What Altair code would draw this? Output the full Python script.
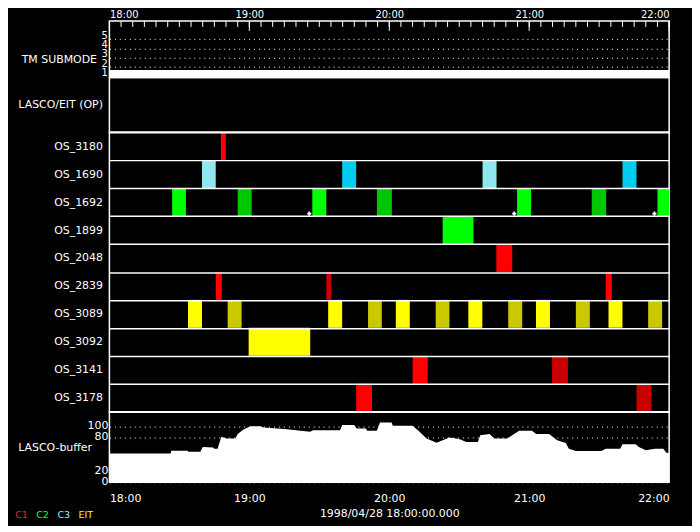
import altair as alt
import pandas as pd

FONT = "DejaVu Sans"

# ---------------- data ----------------
hour_values = [0, 60, 120, 180, 240]          # minutes after 18:00
hour_labels = ["18:00", "19:00", "20:00", "21:00", "22:00"]
date_label = "1998/04/28 18:00:00.000"

row_names = ["OS_3180", "OS_1690", "OS_1692", "OS_1899", "OS_2048",
             "OS_2839", "OS_3089", "OS_3092", "OS_3141", "OS_3178"]

RED, DKRED = "#ff0000", "#c80000"
GRN, DKGRN = "#00ff00", "#00c800"
LCYAN, CYAN = "#90e6ee", "#00ccee"
YEL, OLIVE = "#ffff00", "#ccc800"

os3180_start = [47.8]
os3180_end = [49.9]
os3180_col = [RED]

os1690_start = [39.7, 99.8, 160.0, 220.0]
os1690_end = [45.6, 105.8, 166.0, 226.0]
os1690_col = [LCYAN, CYAN, LCYAN, CYAN]

os1692_start = [26.9, 55.0, 87.0, 114.7, 174.8, 206.8, 235.0]
os1692_end = [32.8, 61.0, 93.0, 121.1, 180.8, 213.0, 240.0]
os1692_col = [GRN, DKGRN, GRN, DKGRN, GRN, DKGRN, GRN]

os1899_start = [142.9]
os1899_end = [156.1]
os1899_col = [GRN]

os2048_start = [165.9]
os2048_end = [172.7]
os2048_col = [RED]

os2839_start = [45.6, 93.0, 212.8]
os2839_end = [48.2, 95.1, 215.4]
os2839_col = [RED, DKRED, RED]

os3089_start = [33.7, 50.7, 93.8, 110.9, 122.8, 139.9, 153.9, 171.0, 182.9, 200.0, 214.0, 231.0]
os3089_end = [39.7, 56.7, 99.8, 116.8, 128.8, 145.8, 159.9, 177.0, 188.9, 206.0, 220.0, 237.0]
os3089_col = [YEL, OLIVE, YEL, OLIVE, YEL, OLIVE, YEL, OLIVE, YEL, OLIVE, YEL, OLIVE]

os3092_start = [59.7]
os3092_end = [86.1]
os3092_col = [YEL]

os3141_start = [130.0, 189.8]
os3141_end = [136.5, 196.6]
os3141_col = [RED, DKRED]

os3178_start = [105.8, 226.0]
os3178_end = [112.6, 232.4]
os3178_col = [RED, DKRED]

flag_time = [85.7, 173.6, 233.7]
flag_row = ["OS_1692", "OS_1692", "OS_1692"]

sub_start = [0]
sub_end = [240]
sub_value = [1]

buf_time = [0, 26.2, 26.6, 33.5, 33.8, 39, 40, 44.5, 45, 46.4, 48, 50, 54, 55, 57.5,
            60.5, 64.8, 66, 75, 86, 87.4, 98.9, 99.8, 105, 106, 110, 110.5, 114.7, 116,
            121, 121.5, 130, 133, 136, 140.3, 145.8, 150, 153, 158, 159, 163, 165, 170.6,
            175.7, 181.2, 183, 188.5, 192, 195.7, 197, 200, 211, 212.8, 219, 220, 225.6,
            227, 230, 234, 237.5, 238.8, 240]
buf_value = [51.5, 51.5, 56, 56, 54.5, 54.5, 63, 62, 60, 60, 81, 78, 78, 86, 94,
             100, 100, 97.7, 95, 90, 93, 93, 102, 102, 96, 96, 92, 92, 106.6,
             106.6, 100.7, 100.7, 90, 78, 70.5, 80, 77, 72, 72, 84, 86, 78, 78,
             92, 92, 86, 86, 75, 70, 60, 55.6, 55.6, 60, 60, 68, 68,
             63, 57, 60, 60, 52.7, 52]

legend_text = ["C1", "C2", "C3", "EIT"]
legend_color = ["#ff2020", "#20ff20", "#a0e8f0", "#ffff00"]
legend_x = [-94.7, -73.7, -52.3, -31.0]

# ---------------- tables ----------------
rows_data = [
    ("OS_3180", os3180_start, os3180_end, os3180_col),
    ("OS_1690", os1690_start, os1690_end, os1690_col),
    ("OS_1692", os1692_start, os1692_end, os1692_col),
    ("OS_1899", os1899_start, os1899_end, os1899_col),
    ("OS_2048", os2048_start, os2048_end, os2048_col),
    ("OS_2839", os2839_start, os2839_end, os2839_col),
    ("OS_3089", os3089_start, os3089_end, os3089_col),
    ("OS_3092", os3092_start, os3092_end, os3092_col),
    ("OS_3141", os3141_start, os3141_end, os3141_col),
    ("OS_3178", os3178_start, os3178_end, os3178_col),
]
recs = []
for name, s, e, c in rows_data:
    for a, b, col in zip(s, e, c):
        recs.append({"row": name, "t": a, "t2": b, "color": col})
bars_df = pd.DataFrame(recs)
flag_df = pd.DataFrame({"row": flag_row, "t": flag_time})
sub_df = pd.DataFrame({"t": sub_start, "t2": sub_end, "v": sub_value})
buf_df = pd.DataFrame({"t": buf_time, "v": buf_value})
minor_df = pd.DataFrame({"t": list(range(0, 241, 5))})
major_df = pd.DataFrame({"t": hour_values})
one_df = pd.DataFrame({"t": [0], "v": [0]})

W = 563
label_expr = "[" + ",".join("'%s'" % s for s in hour_labels) + "][round(datum.value/60)]"
xscale = alt.Scale(domain=[0, 240], nice=False, zero=False)


def xenc(field="t", axis=None):
    return alt.X(f"{field}:Q", scale=xscale, axis=axis, title=None)


top_axis = alt.Axis(orient="top", values=hour_values, labelExpr=label_expr, ticks=False,
                    domain=False, grid=False, labelColor="white", labelFontSize=10,
                    labelPadding=1.5, labelAngle=0, title=None)

# ---------- panel A: TM SUBMODE ----------
axisA = alt.Axis(values=[1, 2, 3, 4, 5], grid=True, gridDash=[1, 4], gridColor="white",
                 gridWidth=1, ticks=False, domain=False, labelColor="white",
                 labelFontSize=10, labelPadding=2, labelOffset=-4, labelOverlap=False,
                 title="TM SUBMODE", titleAngle=0, titleAlign="right", titleBaseline="middle",
                 titleX=-13, titleY=39, titleFontWeight="normal", titleFontSize=11,
                 titleColor="white")
band = alt.Chart(sub_df).mark_rule(color="white", strokeWidth=7.5, yOffset=-2.7).encode(
    x=xenc("t", top_axis), x2="t2:Q",
    y=alt.Y("v:Q", scale=alt.Scale(domain=[0.886, 6.93], nice=False, zero=False), axis=axisA))
tminor = alt.Chart(minor_df).mark_rule(color="white", strokeWidth=1).encode(
    x=xenc("t", top_axis), y=alt.value(0), y2=alt.value(6))
tmajor = alt.Chart(major_df).mark_rule(color="white", strokeWidth=1).encode(
    x=xenc("t", top_axis), y=alt.value(0), y2=alt.value(10))
panelA = alt.layer(band, tminor, tmajor).properties(width=W, height=57)

# ---------- panel B: LASCO/EIT (OP) ----------
panelB = alt.Chart(one_df).mark_point(opacity=0).encode(
    x=xenc("t"),
    y=alt.Y("v:Q", axis=alt.Axis(title="LASCO/EIT (OP)", labels=False, ticks=False, domain=False,
                                 grid=False, titleAngle=0, titleAlign="right",
                                 titleBaseline="middle", titleX=-7, titleY=27.5,
                                 titleFontWeight="normal", titleFontSize=11, titleColor="white"))
).properties(width=W, height=55)

# ---------- panel C: OS rows ----------
rowscale = alt.Scale(domain=row_names, paddingInner=0, paddingOuter=0)
rowaxis = alt.Axis(title=None, tickBand="extent", grid=True, gridColor="white", gridWidth=1.5,
                   ticks=False, domain=False, labelColor="white", labelFontSize=11,
                   labelPadding=7)
bars = alt.Chart(bars_df).mark_rect().encode(
    x=xenc("t"), x2="t2:Q",
    y=alt.Y("row:N", sort=row_names, scale=rowscale, axis=rowaxis),
    color=alt.Color("color:N", scale=None))
flags = alt.Chart(flag_df).mark_point(shape="cross", filled=True, size=18, color="white",
                                      opacity=1, yOffset=11.5).encode(
    x=xenc("t"), y=alt.Y("row:N", sort=row_names, scale=rowscale, axis=rowaxis))
panelC = alt.layer(bars, flags).properties(width=W, height=281)

# ---------- panel D: LASCO-buffer ----------
bottom_axis = alt.Axis(orient="bottom", values=hour_values, labelExpr=label_expr, ticks=False,
                       domain=False, grid=False, labelColor="white", labelFontSize=11,
                       labelPadding=10, labelAngle=0, title=date_label, titleColor="white",
                       titleFontWeight="normal", titleFontSize=11, titlePadding=4)
axisD = alt.Axis(values=[0, 20, 80, 100], grid=True, gridDash=[1, 4], gridColor="white",
                 gridWidth=1, ticks=False, domain=False, labelColor="white", labelFontSize=11,
                 labelPadding=1.5, labelOffset=-1, labelOverlap=False,
                 title="LASCO-buffer", titleAngle=0, titleAlign="right", titleBaseline="middle",
                 titleX=-18, titleY=36, titleFontWeight="normal", titleFontSize=11,
                 titleColor="white")
area = alt.Chart(buf_df).mark_area(color="white", interpolate="linear", opacity=1).encode(
    x=alt.X("t:Q", scale=xscale, axis=bottom_axis),
    y=alt.Y("v:Q", scale=alt.Scale(domain=[0, 126], nice=False, zero=False), axis=axisD))
layersD = [area]
for txt, col, xp in zip(legend_text, legend_color, legend_x):
    layersD.append(alt.Chart(one_df).mark_text(text=txt, color=col, fontSize=9.5, font=FONT,
                                               align="left", baseline="middle").encode(
        x=alt.value(xp), y=alt.value(104.2)))
# black (invisible) pins fixing the drawing extent
layersD.append(alt.Chart(one_df).mark_rule(color="black", strokeWidth=1).encode(
    x=alt.value(-100), x2=alt.value(-99), y=alt.value(1)))
layersD.append(alt.Chart(one_df).mark_rule(color="black", strokeWidth=1).encode(
    x=alt.value(583), x2=alt.value(584), y=alt.value(1)))
layersD.append(alt.Chart(one_df).mark_rule(color="black", strokeWidth=1).encode(
    x=alt.value(-50), x2=alt.value(-49), y=alt.value(111)))
panelD = alt.layer(*layersD).properties(width=W, height=71)

chart = alt.vconcat(panelA, panelB, panelC, panelD, spacing=0, bounds="flush").properties(
    background="black", padding={"left": 0, "top": -1.5, "right": 0, "bottom": 0}
).configure_view(stroke="white", strokeWidth=1.5).configure_axis(
    labelFont=FONT, titleFont=FONT)

chart.save("out.html", embed_options={"renderer": "svg", "actions": False})
